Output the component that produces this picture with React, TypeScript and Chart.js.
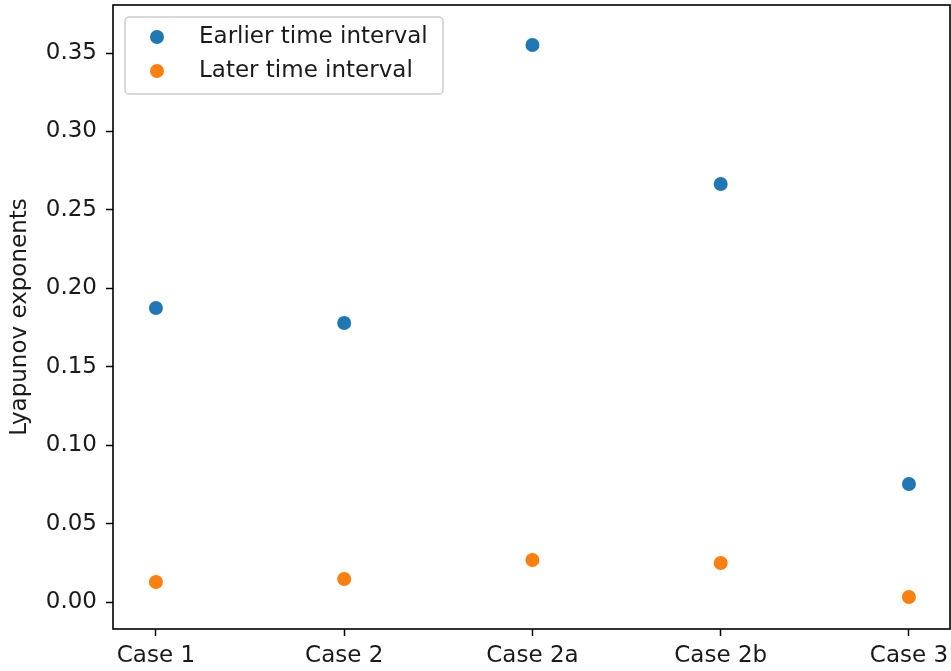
import React, { useEffect, useRef } from "react";
import { Chart, registerables } from "chart.js";

Chart.register(...registerables);

const categories = ["Case 1", "Case 2", "Case 2a", "Case 2b", "Case 3"];
const earlierValues = [0.1874, 0.1779, 0.3551, 0.2665, 0.0752];
const laterValues = [0.0128, 0.0147, 0.0268, 0.0249, 0.0032];
const seriesNames = ["Earlier time interval", "Later time interval"];
const seriesColors = ["#1f77b4", "#ff7f0e"];
const yTickStep = 0.05;
const yAxisTitle = "Lyapunov exponents";

const FONT = "'DejaVu Sans', sans-serif";
const FS = 23;
const TEXT = "#1a1a1a";

const framePlugin = {
  id: "frameAndLegend",
  beforeDatasetsDraw(chart: any) {
    const { ctx, chartArea } = chart;
    ctx.save();
    ctx.strokeStyle = "#000";
    ctx.lineWidth = 1.6;
    ctx.strokeRect(chartArea.left, chartArea.top, chartArea.right - chartArea.left, chartArea.bottom - chartArea.top);
    ctx.restore();
  },
  afterDatasetsDraw(chart: any) {
    const { ctx, chartArea } = chart;
    const x0 = chartArea.left + 12;
    const y0 = chartArea.top + 12;
    const w = 318;
    const h = 77;
    const r = 4;
    ctx.save();
    ctx.beginPath();
    ctx.moveTo(x0 + r, y0);
    ctx.lineTo(x0 + w - r, y0);
    ctx.arcTo(x0 + w, y0, x0 + w, y0 + r, r);
    ctx.lineTo(x0 + w, y0 + h - r);
    ctx.arcTo(x0 + w, y0 + h, x0 + w - r, y0 + h, r);
    ctx.lineTo(x0 + r, y0 + h);
    ctx.arcTo(x0, y0 + h, x0, y0 + h - r, r);
    ctx.lineTo(x0, y0 + r);
    ctx.arcTo(x0, y0, x0 + r, y0, r);
    ctx.closePath();
    ctx.fillStyle = "rgba(255,255,255,0.8)";
    ctx.fill();
    ctx.strokeStyle = "#cccccc";
    ctx.lineWidth = 1.5;
    ctx.stroke();
    ctx.font = `${FS}px ${FONT}`;
    ctx.textBaseline = "middle";
    ctx.textAlign = "left";
    seriesNames.forEach((name, i) => {
      const cy = y0 + 20 + i * 34;
      ctx.beginPath();
      ctx.arc(x0 + 32, cy, 7, 0, Math.PI * 2);
      ctx.fillStyle = seriesColors[i];
      ctx.fill();
      ctx.fillStyle = TEXT;
      ctx.fillText(name, x0 + 74, cy);
    });
    ctx.restore();
  },
};

export default function App() {
  const ref = useRef<HTMLCanvasElement>(null);
  useEffect(() => {
    if (!ref.current) return;
    const chart = new Chart(ref.current, {
      type: "scatter",
      data: {
        datasets: [earlierValues, laterValues].map((vals, i) => ({
          label: seriesNames[i],
          data: vals.map((v, j) => ({ x: j, y: v })),
          backgroundColor: seriesColors[i],
          borderColor: seriesColors[i],
          pointRadius: 7,
          pointBorderWidth: 0,
        })),
      },
      options: {
        responsive: false,
        animation: false,
        layout: { autoPadding: false, padding: { top: 5, right: 1, bottom: 0, left: 0 } },
        plugins: { legend: { display: false }, tooltip: { enabled: false } },
        scales: {
          x: {
            type: "linear",
            min: -0.228,
            max: 4.218,
            afterFit: (s: any) => {
              s.height = 42;
              s.paddingLeft = 0;
              s.paddingRight = 0;
            },
            border: { display: false },
            grid: { drawOnChartArea: false, drawTicks: true, tickLength: 7, tickWidth: 1.5, tickColor: "#000" },
            ticks: {
              includeBounds: false,
              stepSize: 1,
              autoSkip: false,
              maxRotation: 0,
              padding: 6,
              color: TEXT,
              font: { family: FONT, size: FS },
              callback: (v: any) => (Number.isInteger(v) && categories[v] !== undefined ? categories[v] : ""),
            },
          },
          y: {
            type: "linear",
            min: -0.0172,
            max: 0.3806,
            afterFit: (s: any) => {
              s.width = 113;
              s.paddingTop = 0;
              s.paddingBottom = 0;
            },
            border: { display: false },
            grid: { drawOnChartArea: false, drawTicks: true, tickLength: 7, tickWidth: 1.5, tickColor: "#000" },
            title: {
              display: true,
              text: yAxisTitle,
              color: TEXT,
              font: { family: FONT, size: FS },
              padding: { top: 6, bottom: 0 },
            },
            ticks: {
              includeBounds: false,
              stepSize: yTickStep,
              padding: 9,
              color: TEXT,
              font: { family: FONT, size: FS },
              callback: (v: any) => Number(v).toFixed(2),
            },
          },
        },
      },
      plugins: [framePlugin],
    });
    return () => chart.destroy();
  }, []);
  return (
    <div style={{ position: "fixed", left: 0, top: 0, width: 951, height: 671 }}>
      <canvas ref={ref} width={951} height={671} style={{ display: "block" }} />
    </div>
  );
}
